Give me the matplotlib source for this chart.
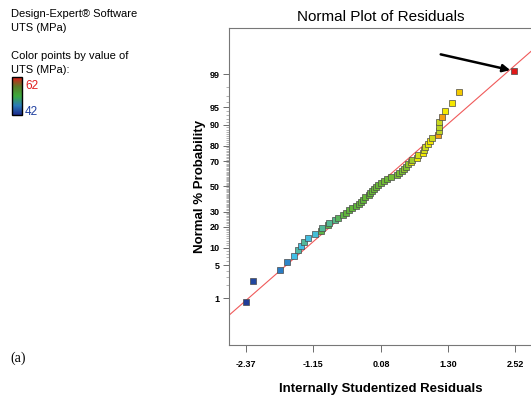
import numpy as np
import matplotlib
matplotlib.use("Agg")
import matplotlib.pyplot as plt
from matplotlib.colors import LinearSegmentedColormap, Normalize
from matplotlib.cm import ScalarMappable
from statistics import NormalDist

plt.rcParams["font.family"] = ["Liberation Sans", "DejaVu Sans"]

# =========================================================
# data
# =========================================================
# internally studentized residuals, sorted
residuals = [
    -2.375, -2.248, -1.753, -1.626, -1.504, -1.421, -1.372, -1.323, -1.250, -1.123,
    -1.014, -0.996, -0.882, -0.869, -0.755, -0.700, -0.604, -0.555, -0.495, -0.446,
    -0.379, -0.314, -0.283, -0.252, -0.210, -0.143, -0.120, -0.083, -0.047, -0.005,
    0.025, 0.080, 0.140, 0.190, 0.256, 0.365, 0.410, 0.460, 0.498, 0.530,
    0.570, 0.619, 0.640, 0.739, 0.760, 0.837, 0.860, 0.878, 0.930, 0.970,
    1.000, 1.109, 1.127, 1.127, 1.127, 1.187, 1.247, 1.374, 1.496, 2.500,
]
# UTS (MPa) of each point, used for colour
uts = [
    42.0, 42.6, 45.0, 45.4, 47.4, 49.0, 47.4, 49.2, 47.6, 47.8,
    50.8, 49.2, 50.8, 49.4, 49.6, 50.4, 50.8, 51.0, 51.0, 51.2,
    51.0, 51.2, 51.4, 51.2, 51.4, 51.6, 51.4, 51.6, 51.6, 51.8,
    51.6, 51.8, 52.0, 51.8, 52.2, 52.4, 52.6, 52.4, 53.2, 52.8,
    53.4, 55.6, 53.6, 56.2, 55.0, 56.4, 55.2, 54.6, 56.0, 56.6,
    54.8, 59.0, 54.4, 54.2, 54.6, 59.0, 56.4, 56.6, 57.6, 62.0,
]
uts_min, uts_max = 42, 62

x_ticks = [-2.37, -1.15, 0.08, 1.30, 2.52]
prob_major = [1, 5, 10, 20, 30, 50, 70, 80, 90, 95, 99]
prob_minor = [p for p in range(2, 99) if p not in prob_major]

# =========================================================
# normal probability positions
# =========================================================
nd = NormalDist()
n = len(residuals)
z_pts = [nd.inv_cdf((i - 0.5) / n) for i in range(1, n + 1)]

cmap = LinearSegmentedColormap.from_list("de", [
    (0.00, "#203c98"),
    (0.15, "#2a7cc4"),
    (0.27, "#42bfe6"),
    (0.36, "#52b89c"),
    (0.45, "#5eb43a"),
    (0.55, "#84c230"),
    (0.63, "#c8d820"),
    (0.72, "#f4ec00"),
    (0.79, "#f4c400"),
    (0.87, "#f09418"),
    (1.00, "#e01818"),
])
# the small legend bar is drawn with a plainer blue-green-red ramp
cmap_bar = LinearSegmentedColormap.from_list("bar", [
    (0.00, "#1c2a8c"),
    (0.25, "#2a7ab8"),
    (0.50, "#3caa3c"),
    (0.75, "#5a7a28"),
    (1.00, "#e01818"),
])
norm = Normalize(uts_min, uts_max)

fig = plt.figure(figsize=(5.31, 3.99), dpi=100)
ax = fig.add_axes([229 / 531, 54 / 399, 304 / 531, 317 / 399])

ax.axline((0, 0), slope=1, color="#f05a5a", lw=0.8, zorder=1)
for r, z, u in zip(residuals, z_pts, uts):
    ax.plot(r, z, "s", ms=5, mfc=cmap(norm(u)), mec="#4a4a4a", mew=0.5, zorder=3)

ax.annotate("", xy=(residuals[-1], z_pts[-1]), xytext=(-53, 12),
            textcoords="offset points",
            arrowprops=dict(arrowstyle="-|>", lw=1.8, color="black",
                            mutation_scale=11, shrinkA=0, shrinkB=3))

ax.set_xlim(-2.679, 2.839)
ax.set_ylim(-3.297, 3.288)

ax.set_xticks(x_ticks)
ax.set_xticklabels([f"{v:.2f}" for v in x_ticks], fontsize=6.5, fontweight="bold")
ax.set_yticks([nd.inv_cdf(p / 100) for p in prob_major])
ax.set_yticklabels([str(p) for p in prob_major], fontsize=6.5, fontweight="bold")
ax.set_yticks([nd.inv_cdf(p / 100) for p in prob_minor], minor=True)
ax.tick_params(axis="x", direction="out", length=5, width=0.6, pad=6, color="#555555")
ax.tick_params(axis="y", which="major", direction="out", length=4.5, width=0.6, pad=2,
               color="#555555")
ax.tick_params(axis="y", which="minor", direction="out", length=2.2, width=0.4,
               color="#777777")

for s in ax.spines.values():
    s.set_color("#777777")
    s.set_linewidth(0.8)

ax.set_title("Normal Plot of Residuals", fontsize=11, pad=5)
ax.set_xlabel("Internally Studentized Residuals", fontsize=9.5, fontweight="bold",
              labelpad=10)
ax.set_ylabel("Normal % Probability", fontsize=9.5, fontweight="bold", labelpad=3)

# left side info
fig.text(11 / 531, 1 - 17 / 399, "Design-Expert\u00ae Software", fontsize=8)
fig.text(11 / 531, 1 - 31 / 399, "UTS (MPa)", fontsize=8)
fig.text(11 / 531, 1 - 59 / 399, "Color points by value of", fontsize=8)
fig.text(11 / 531, 1 - 73 / 399, "UTS (MPa):", fontsize=8)

cax = fig.add_axes([12 / 531, 1 - 115 / 399, 10 / 531, 38 / 399])
cb = fig.colorbar(ScalarMappable(norm=norm, cmap=cmap_bar), cax=cax)
cb.set_ticks([])
cb.outline.set_linewidth(1.0)
fig.text(25 / 531, 1 - 89 / 399, str(uts_max), fontsize=8.5, color="#e02020")
fig.text(25 / 531, 1 - 115 / 399, str(uts_min), fontsize=8.5, color="#2040a0")

fig.text(10 / 531, 1 - 362 / 399, "(a)", fontsize=10, family="Liberation Serif")

fig.savefig("out.png", dpi=100)
